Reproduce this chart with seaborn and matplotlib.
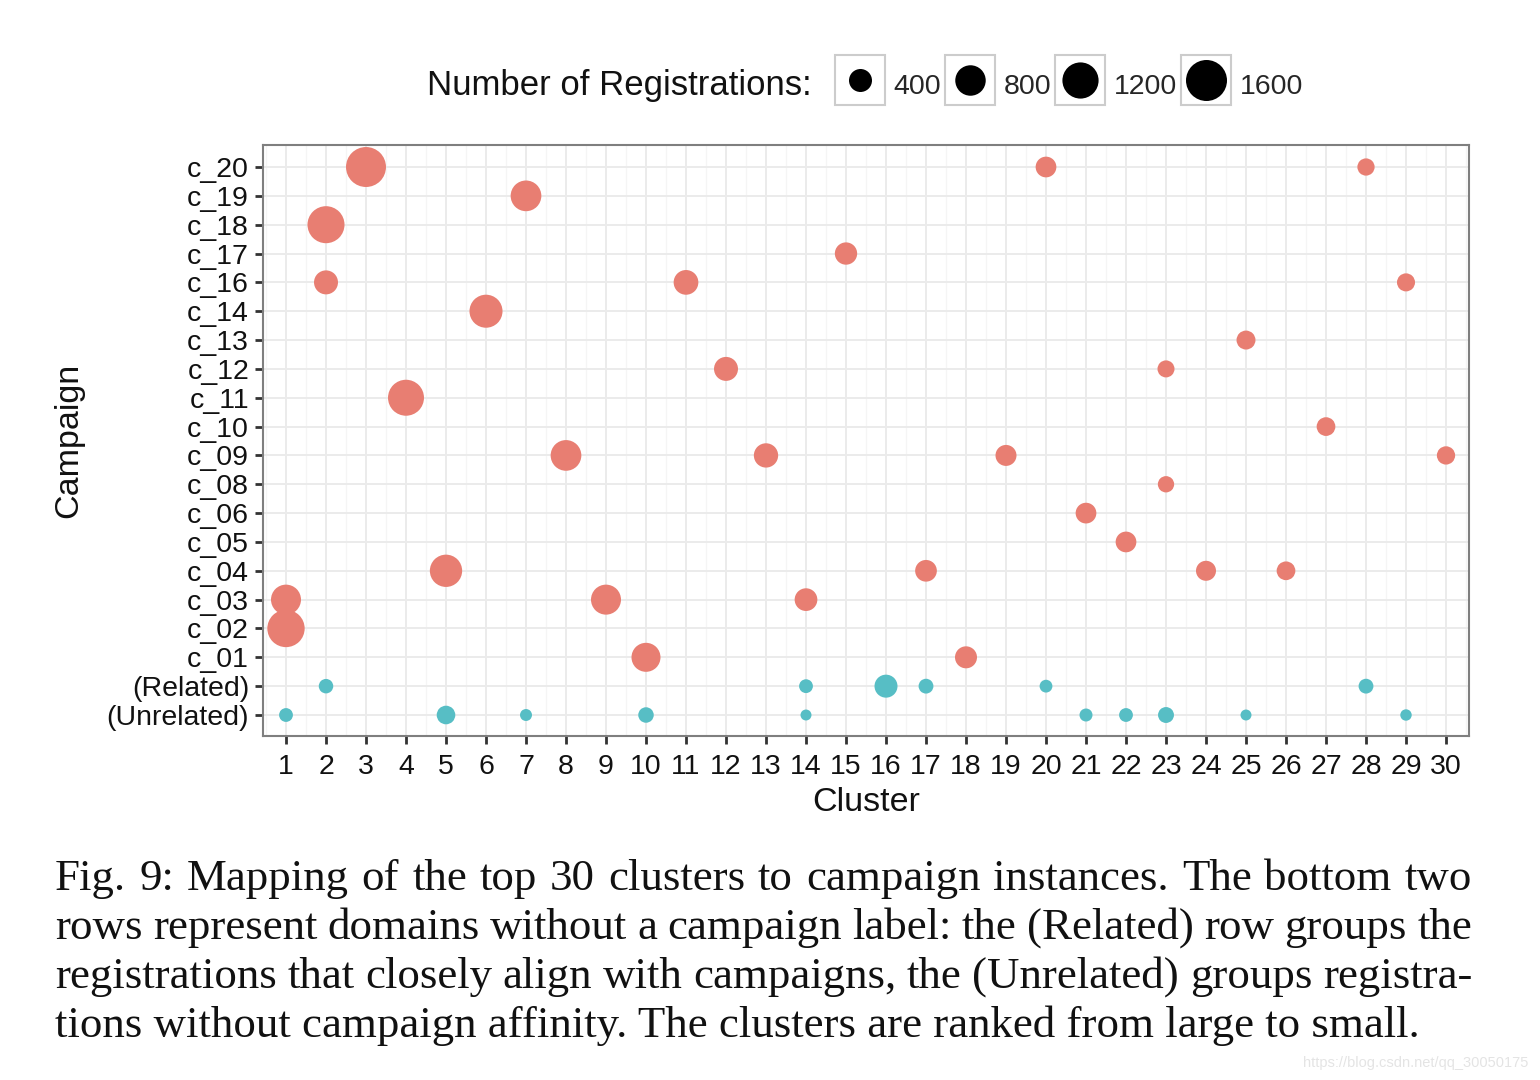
import numpy as np
import pandas as pd
import matplotlib
matplotlib.use("Agg")
import matplotlib.pyplot as plt
import seaborn as sns
from matplotlib.lines import Line2D
from matplotlib.legend_handler import HandlerTuple

# ---------------- data ----------------
campaign_order = ["(Unrelated)", "(Related)", "c_01", "c_02", "c_03", "c_04", "c_05",
                  "c_06", "c_08", "c_09", "c_10", "c_11", "c_12", "c_13", "c_14",
                  "c_16", "c_17", "c_18", "c_19", "c_20"]  # bottom to top
clusters = list(range(1, 31))

point_campaign = (["c_20"] * 3 + ["c_19"] + ["c_18"] + ["c_17"] + ["c_16"] * 3 +
                  ["c_14"] + ["c_13"] + ["c_12"] * 2 + ["c_11"] + ["c_10"] +
                  ["c_09"] * 4 + ["c_08"] + ["c_06"] + ["c_05"] + ["c_04"] * 4 +
                  ["c_03"] * 3 + ["c_02"] + ["c_01"] * 2 +
                  ["(Related)"] * 6 + ["(Unrelated)"] * 10)
point_cluster = [3, 20, 28,
                 7,
                 2,
                 15,
                 2, 11, 29,
                 6,
                 25,
                 12, 23,
                 4,
                 27,
                 8, 13, 19, 30,
                 23,
                 21,
                 22,
                 5, 17, 24, 26,
                 1, 9, 14,
                 1,
                 10, 18,
                 2, 14, 16, 17, 20, 28,
                 1, 5, 7, 10, 14, 21, 22, 23, 25, 29]
point_registrations = [1510, 305, 185,
                       815,
                       1265,
                       370,
                       445, 480, 210,
                       970,
                       240,
                       445, 178,
                       1185,
                       232,
                       815, 460, 316, 218,
                       158,
                       305,
                       305,
                       920, 344, 278, 232,
                       772, 772, 387,
                       1290,
                       711, 357,
                       111, 96, 400, 119, 75, 119,
                       96, 228, 60, 136, 44, 79, 96, 147, 44, 51]
legend_values = [400, 800, 1200, 1600]

caption_lines = [
    "Fig. 9: Mapping of the top 30 clusters to campaign instances. The bottom two",
    "rows represent domains without a campaign label: the (Related) row groups the",
    "registrations that closely align with campaigns, the (Unrelated) groups registra-",
    "tions without campaign affinity. The clusters are ranked from large to small.",
]

# ---------------- styling ----------------
sns.set_theme(style="white")
plt.rcParams['font.family'] = ['Liberation Sans', 'DejaVu Sans']

RED = "#E87E72"
TEAL = "#57BEC5"

df = pd.DataFrame({"campaign": point_campaign,
                   "cluster": point_cluster,
                   "registrations": point_registrations})
df["row"] = df["campaign"].map({c: i for i, c in enumerate(campaign_order)})
df["group"] = np.where(df["campaign"].str.startswith("("), "unlabeled", "campaign")


def diam_pt(v):
    return (5 + 0.9 * np.sqrt(v)) * 0.72


size_map = {v: diam_pt(v) ** 2 for v in sorted(df["registrations"].unique())}

W, H = 1540, 1080
fig = plt.figure(figsize=(W / 100, H / 100), dpi=100)
fig.patch.set_facecolor("white")
ax = fig.add_axes([263 / W, 1 - 736 / H, (1469 - 263) / W, (736 - 145) / H])

sns.scatterplot(data=df, x="cluster", y="row", hue="group",
                palette={"campaign": RED, "unlabeled": TEAL},
                size="registrations", sizes=size_map,
                linewidth=0, legend=False, ax=ax, zorder=3)

ax.set_xlim(0.425, 30.575)
ax.set_ylim(-0.728, 19.763)
ax.set_xticks(clusters)
ax.set_xticklabels([str(c) for c in clusters])
ax.set_xticks(np.arange(0.5, 31, 1), minor=True)
ax.set_yticks(range(len(campaign_order)))
ax.set_yticklabels(campaign_order)
ax.set_axisbelow(True)
ax.grid(True, which="major", color="#EBEBEB", lw=1.4)
ax.grid(True, which="minor", axis="x", color="#F5F5F5", lw=0.9)
for s in ax.spines.values():
    s.set_color("#7F7F7F")
    s.set_linewidth(1.5)
ax.tick_params(axis="both", which="major", bottom=True, left=True, length=6, width=2,
               color="#333333", labelsize=20.5, pad=4, direction="out", labelcolor="#111111")
ax.tick_params(axis="x", which="major", pad=7)
ax.tick_params(which="minor", length=0)
ax.set_xlabel("Cluster", fontsize=24.5, labelpad=5, color="#111111")
ax.set_ylabel("Campaign", fontsize=24.5, labelpad=16, color="#111111")

# ---------------- legend ----------------
fig.text(812 / W, 1 - 85 / H, "Number of Registrations:", ha="right", va="center",
         fontsize=25, color="#111111")
handles = []
for v in legend_values:
    box = Line2D([], [], marker="s", markersize=36, markerfacecolor="white",
                 markeredgecolor="#CCCCCC", markeredgewidth=1.5, linestyle="")
    dot = Line2D([], [], marker="o", markersize=diam_pt(v), color="black",
                 markeredgewidth=0, linestyle="")
    handles.append((box, dot))
fig.legend(handles, [str(v) for v in legend_values], loc="center left",
           bbox_to_anchor=(834 / W, 1 - 85 / H), ncol=4, frameon=False, fontsize=20.5,
           handlelength=1.8, handleheight=1.8, handletextpad=0.3, columnspacing=0.1,
           borderpad=0, borderaxespad=0,
           handler_map={tuple: HandlerTuple(ndivide=1)})

# ---------------- caption (justified) ----------------
renderer = fig.canvas.get_renderer()
x0, x1 = 55, 1472
base_y = [890, 939, 988, 1037]
cap_kw = dict(fontsize=32.3, family=["Liberation Serif", "DejaVu Serif"], color="#111111",
              va="baseline", ha="left")
for i, line in enumerate(caption_lines):
    yfig = 1 - base_y[i] / H
    if i == len(caption_lines) - 1:
        fig.text(x0 / W, yfig, line, **cap_kw)
        continue
    words = line.split(" ")
    objs = [fig.text(0, yfig, w, **cap_kw) for w in words]
    widths = [o.get_window_extent(renderer).width for o in objs]
    gap = (x1 - x0 - sum(widths)) / (len(words) - 1)
    xpos = x0
    for o, w in zip(objs, widths):
        o.set_x(xpos / W)
        xpos += w + gap

fig.text(1528 / W, 1 - 1067 / H, "https://blog.csdn.net/qq_30050175", ha="right",
         va="baseline", fontsize=10.5, color="#E4E4E4")

fig.savefig("out.png", dpi=100, facecolor="white")
